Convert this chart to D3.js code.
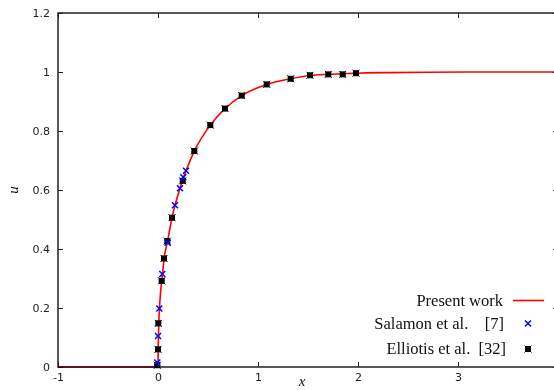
<!DOCTYPE html>
<html><head><meta charset="utf-8">
<script src="https://cdn.jsdelivr.net/npm/d3@7"></script>
<style>body{margin:0;background:#fff}svg{display:block}</style>
</head><body>
<svg id="c" width="554" height="390"></svg>
<script>
// Data
const presentX = [-1, 0, 0.001, 0.002, 0.005, 0.008, 0.015, 0.025, 0.037, 0.045, 0.06, 0.095, 0.14, 0.17, 0.22, 0.25, 0.28, 0.363, 0.523, 0.67, 0.837, 1.087, 1.327, 1.52, 1.703, 1.847, 1.98, 2.3, 2.7, 3.2, 4];
const presentU = [0, 0, 0.02, 0.06, 0.105, 0.148, 0.2, 0.25, 0.292, 0.315, 0.365, 0.425, 0.506, 0.548, 0.606, 0.638, 0.665, 0.732, 0.82, 0.876, 0.92, 0.958, 0.977, 0.988, 0.992, 0.994, 0.996, 0.998, 0.999, 1, 1];
const salamonX = [-0.007, 0.0, 0.013, 0.043, 0.097, 0.17, 0.22, 0.253, 0.28];
const salamonU = [0.015, 0.105, 0.198, 0.315, 0.421, 0.548, 0.606, 0.643, 0.665];
const elliotisX = [-0.007, 0.0, 0.003, 0.037, 0.06, 0.093, 0.14, 0.247, 0.363, 0.523, 0.67, 0.837, 1.087, 1.327, 1.52, 1.703, 1.847, 1.98];
const elliotisU = [0.006, 0.06, 0.148, 0.292, 0.368, 0.427, 0.506, 0.631, 0.732, 0.82, 0.876, 0.92, 0.958, 0.977, 0.989, 0.992, 0.992, 0.996];
const xTicks = [-1, 0, 1, 2, 3];
const xTickLabels = ["-1", "0", "1", "2", "3"];
const yTicks = [0, 0.2, 0.4, 0.6, 0.8, 1, 1.2];
const yTickLabels = ["0", "0.2", "0.4", "0.6", "0.8", "1", "1.2"];
const legendLabels = ["Present work", "Salamon et al.    [7]", "Elliotis et al.  [32]"];

const svg = d3.select("#c");
const L = 58, R = 558, T = 13, B = 367;
const x = d3.scaleLinear().domain([-1, 4]).range([L, R]);
const y = d3.scaleLinear().domain([0, 1.2]).range([B, T]);
const frameColor = "#222";

// ticks (inward, mirrored)
const gx = svg.append("g").attr("transform", `translate(0,${B})`)
  .call(d3.axisBottom(x).tickValues(xTicks).tickSize(-5).tickPadding(7).tickFormat((d, i) => xTickLabels[i]));
const gxt = svg.append("g").attr("transform", `translate(0,${T})`)
  .call(d3.axisTop(x).tickValues(xTicks).tickSize(-5).tickFormat(""));
const gy = svg.append("g").attr("transform", `translate(${L},0)`)
  .call(d3.axisLeft(y).tickValues(yTicks).tickSize(-5).tickPadding(8).tickFormat((d, i) => yTickLabels[i]));
const gyr = svg.append("g").attr("transform", `translate(${R},0)`)
  .call(d3.axisRight(y).tickValues(yTicks).tickSize(-5).tickFormat(""));
[gx, gxt, gy, gyr].forEach(g => {
  g.select(".domain").remove();
  g.selectAll("line").attr("stroke", frameColor).attr("stroke-width", 1);
  g.selectAll("text").attr("font-family", "DejaVu Sans, sans-serif").attr("font-size", 11).attr("fill", "#222");
});
gx.selectAll("text").attr("dy", "0.6em");

// frame
svg.append("rect").attr("x", L).attr("y", T).attr("width", R - L).attr("height", B - T)
  .attr("fill", "none").attr("stroke", frameColor).attr("stroke-width", 1.5);

// present work curve
const pts = presentX.map((d, i) => [d, presentU[i]]);
svg.append("path").datum(pts)
  .attr("d", d3.line().x(d => x(d[0])).y(d => y(d[1])).curve(d3.curveMonotoneX))
  .attr("fill", "none").attr("stroke", "#ff0000").attr("stroke-width", 1.6)
  .style("mix-blend-mode", "multiply");

// Elliotis markers: filled square with cross
function boxMark(g, cx, cy) {
  g.append("rect").attr("x", cx - 3).attr("y", cy - 3).attr("width", 6).attr("height", 6).attr("fill", "#000");
  g.append("path").attr("d", `M${cx-3.5},${cy-3.5}L${cx+3.5},${cy+3.5}M${cx-3.5},${cy+3.5}L${cx+3.5},${cy-3.5}`)
    .attr("stroke", "#000").attr("stroke-width", 1);
}
function crossMark(g, cx, cy) {
  g.append("path").attr("d", `M${cx-3},${cy-3}L${cx+3},${cy+3}M${cx-3},${cy+3}L${cx+3},${cy-3}`)
    .attr("stroke", "#0000ff").attr("stroke-width", 1.5);
}
const ge = svg.append("g");
elliotisX.forEach((d, i) => boxMark(ge, x(d), y(elliotisU[i])));
const gs = svg.append("g");
salamonX.forEach((d, i) => crossMark(gs, x(d), y(salamonU[i])));

// legend
const serif = "Liberation Serif, DejaVu Serif, serif";
const legY = [300.5, 323.5, 349];
const legTextX = [503, 504, 506];
legendLabels.forEach((t, i) => {
  svg.append("text").attr("x", legTextX[i]).attr("y", legY[i]).attr("dy", "0.33em")
    .attr("text-anchor", "end").attr("font-family", serif).attr("font-size", 16.5)
    .attr("fill", "#111").style("white-space", "pre").attr("xml:space", "preserve").text(t);
});
svg.append("line").attr("x1", 513).attr("x2", 544).attr("y1", legY[0]).attr("y2", legY[0])
  .attr("stroke", "#ff0000").attr("stroke-width", 1.6);
crossMark(svg, 528, legY[1]);
boxMark(svg, 528, legY[2]);

// axis titles
svg.append("text").attr("x", 302).attr("y", 386).attr("text-anchor", "middle")
  .attr("font-family", serif).attr("font-style", "italic").attr("font-size", 15).attr("fill", "#111").text("x");
svg.append("text").attr("transform", "translate(18,190) rotate(-90)").attr("text-anchor", "middle")
  .attr("font-family", serif).attr("font-style", "italic").attr("font-size", 15).attr("fill", "#111").text("u");
</script>
</body></html>
